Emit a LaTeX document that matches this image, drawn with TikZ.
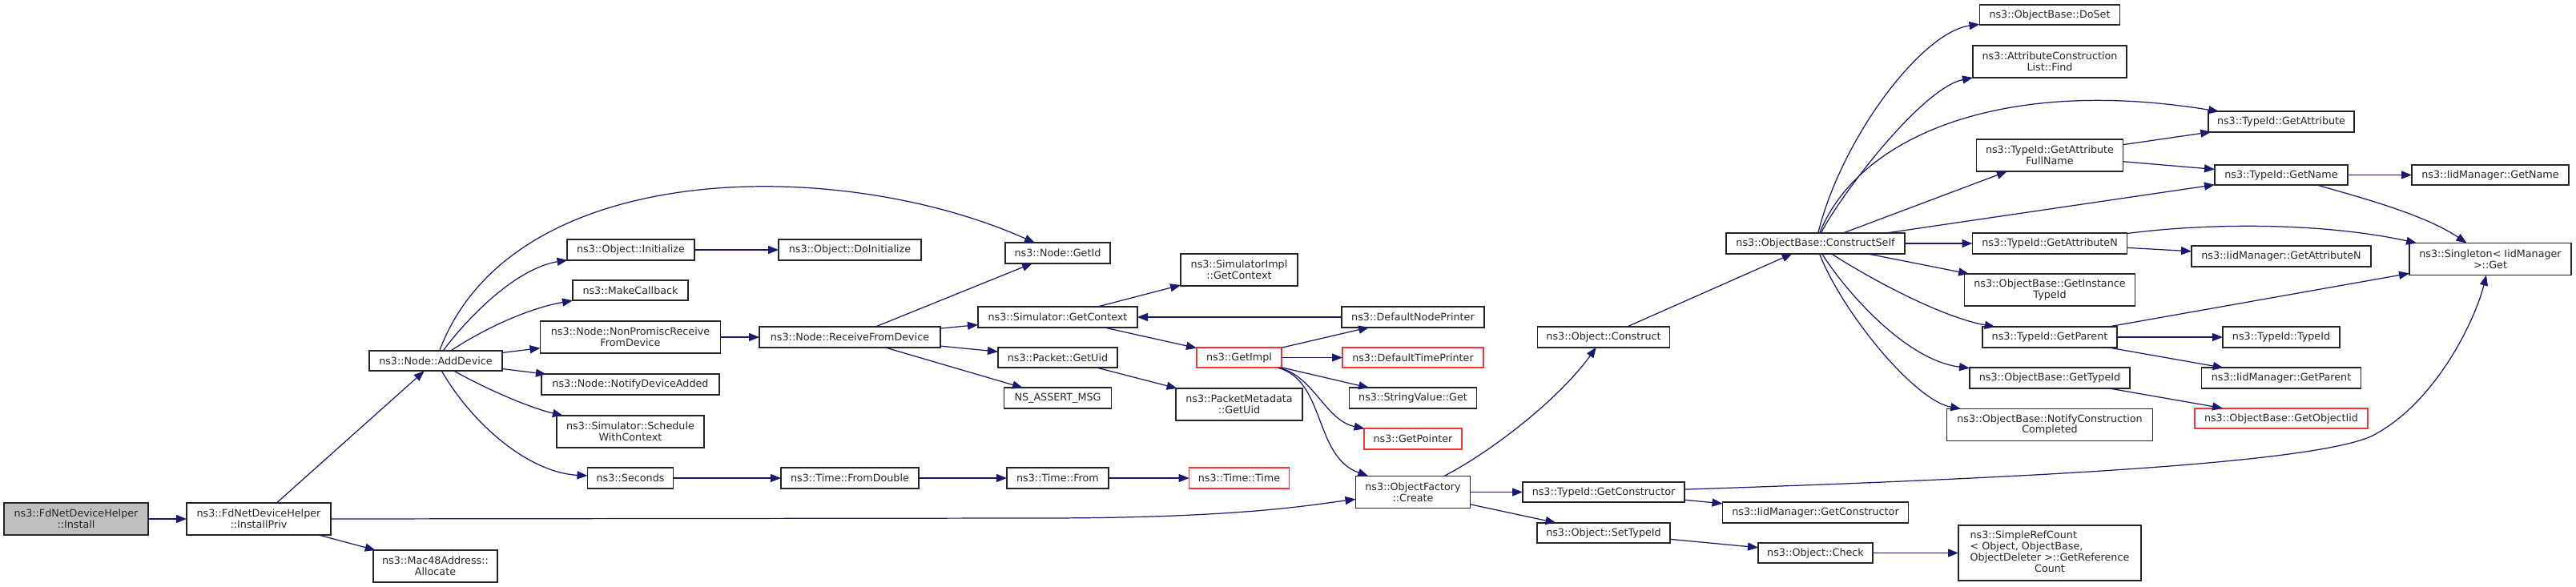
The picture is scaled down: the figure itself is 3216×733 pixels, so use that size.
\documentclass[tikz,border=0pt]{standalone}
\usepackage{fontspec}
\usetikzlibrary{arrows.meta}
\newfontfamily\dvs{DejaVu Sans}
\definecolor{edgeblue}{HTML}{191970}
\definecolor{boxline}{HTML}{262626}
\definecolor{boxred}{HTML}{FF3333}
\definecolor{rootfill}{HTML}{BFBFBF}
\tikzset{
  nbox/.style 2 args={draw=boxline, fill=white, line width=1.05pt, rectangle,
    inner sep=0pt, outer sep=0pt, minimum width=#1*0.02cm, minimum height=#2*0.02cm,
    align=center, font=\dvs\fontsize{7.25}{7.94}\selectfont, text=black!85},
  redbox/.style={draw=boxred},
  callarrow/.style={draw=edgeblue, line width=0.7pt, -{Triangle[length=7.4pt,width=5.7pt]}}
}
\begin{document}
\begin{tikzpicture}[x=0.02cm,y=-0.02cm]
\useasboundingbox[fill=white] (0,0) rectangle (3216,733);
% column 1-2
\node[nbox={180}{40}, fill=rootfill] (install) at (95,648) {ns3::FdNetDeviceHelper\\::Install};
\node[nbox={180}{40}] (installpriv) at (323,648) {ns3::FdNetDeviceHelper\\::InstallPriv};
\node[nbox={155}{40}] (mac48) at (543.5,707) {ns3::Mac48Address::\\Allocate};
\node[nbox={166}{25.5}] (adddevice) at (544,450.5) {ns3::Node::AddDevice};
% column 3
\node[nbox={159}{25.5}] (init) at (787.5,312) {ns3::Object::Initialize};
\node[nbox={144}{25.5}] (makecb) at (787,362.5) {ns3::MakeCallback};
\node[nbox={225}{40}] (nonpromisc) at (787,421) {ns3::Node::NonPromiscReceive\\FromDevice};
\node[nbox={222}{25.5}] (notifyadded) at (787,480) {ns3::Node::NotifyDeviceAdded};
\node[nbox={184}{40}] (schedule) at (787,539) {ns3::Simulator::Schedule\\WithContext};
\node[nbox={107}{25.5}] (seconds) at (787,597) {ns3::Seconds};
% column 4
\node[nbox={178}{25.5}] (doinit) at (1061,312) {ns3::Object::DoInitialize};
\node[nbox={226}{25.5}] (recv) at (1061,421) {ns3::Node::ReceiveFromDevice};
\node[nbox={172}{25.5}] (fromdouble) at (1061,597) {ns3::Time::FromDouble};
% column 5
\node[nbox={131}{25.5}] (getid) at (1320.5,316) {ns3::Node::GetId};
\node[nbox={199}{25.5}] (simctx) at (1320.5,396) {ns3::Simulator::GetContext};
\node[nbox={149}{25.5}] (pktuid) at (1320.5,446.5) {ns3::Packet::GetUid};
\node[nbox={134}{25.5}] (nsassert) at (1320.5,497) {NS\_ASSERT\_MSG};
\node[nbox={127}{25.5}] (timefrom) at (1320.5,597) {ns3::Time::From};
% column 6
\node[nbox={146}{40}] (simimplctx) at (1547,337) {ns3::SimulatorImpl\\::GetContext};
\node[nbox={106}{25.5}, redbox] (getimpl) at (1547,446.5) {ns3::GetImpl};
\node[nbox={158}{40}] (pmuid) at (1547,505) {ns3::PacketMetadata\\::GetUid};
\node[nbox={125}{25.5}, redbox] (timetime) at (1547,597) {ns3::Time::Time};
% column 7
\node[nbox={178}{25.5}] (defnode) at (1764,396) {ns3::DefaultNodePrinter};
\node[nbox={176}{25.5}, redbox] (deftime) at (1764,446.5) {ns3::DefaultTimePrinter};
\node[nbox={159}{25.5}] (strget) at (1764,497) {ns3::StringValue::Get};
\node[nbox={122}{25.5}, redbox] (getptr) at (1764,548) {ns3::GetPointer};
\node[nbox={143}{40}] (create) at (1764,614.5) {ns3::ObjectFactory\\::Create};
% column 8
\node[nbox={165}{25.5}] (construct) at (2002,421) {ns3::Object::Construct};
\node[nbox={202}{25.5}] (getctor) at (2002,614.5) {ns3::TypeId::GetConstructor};
\node[nbox={166}{25.5}] (settypeid) at (2002,665.5) {ns3::Object::SetTypeId};
% column 9
\node[nbox={223}{25.5}] (constructself) at (2266.5,304) {ns3::ObjectBase::ConstructSelf};
\node[nbox={232}{25.5}] (iidgetctor) at (2266.5,640) {ns3::IidManager::GetConstructor};
\node[nbox={143}{25.5}] (check) at (2266.5,690.5) {ns3::Object::Check};
% column 10
\node[nbox={175}{25.5}] (doset) at (2559,18.5) {ns3::ObjectBase::DoSet};
\node[nbox={192}{40}] (find) at (2559,77) {ns3::AttributeConstruction\\List::Find};
\node[nbox={183}{40}] (getattrfullname) at (2559,194) {ns3::TypeId::GetAttribute\\FullName};
\node[nbox={193}{25.5}] (getattrn) at (2559,304) {ns3::TypeId::GetAttributeN};
\node[nbox={213}{40}] (getinsttypeid) at (2559,362) {ns3::ObjectBase::GetInstance\\TypeId};
\node[nbox={168}{25.5}] (getparent) at (2559,421) {ns3::TypeId::GetParent};
\node[nbox={200}{25.5}] (obgettypeid) at (2559,472) {ns3::ObjectBase::GetTypeId};
\node[nbox={257}{40}] (notifyconstr) at (2559,530.5) {ns3::ObjectBase::NotifyConstruction\\Completed};
\node[nbox={228}{69}] (simplerefcount) at (2559,690.5) {\begin{tabular}{@{}l@{}}ns3::SimpleRefCount\\< Object, ObjectBase,\\ObjectDeleter >::GetReference\\\multicolumn{1}{@{}c@{}}{Count}\end{tabular}};
% column 11
\node[nbox={182}{25.5}] (getattribute) at (2848,152) {ns3::TypeId::GetAttribute};
\node[nbox={166}{25.5}] (typeidgetname) at (2848,218.5) {ns3::TypeId::GetName};
\node[nbox={224}{25.5}] (iidgetattrn) at (2848,320) {ns3::IidManager::GetAttributeN};
\node[nbox={146}{25.5}] (typeidtypeid) at (2848,421) {ns3::TypeId::TypeId};
\node[nbox={199}{25.5}] (iidgetparent) at (2848,472) {ns3::IidManager::GetParent};
\node[nbox={216}{25.5}, redbox] (getobjectiid) at (2848,522.5) {ns3::ObjectBase::GetObjectIid};
% column 12
\node[nbox={196}{25.5}] (iidgetname) at (3109,218.5) {ns3::IidManager::GetName};
\node[nbox={202}{40}] (singleton) at (3109,323.5) {ns3::Singleton< IidManager\\ >::Get};
% edges
\draw[callarrow] (install) -- (installpriv);
\draw[callarrow] (installpriv) -- (adddevice);
\draw[callarrow] (installpriv.east) -- (1300,647) .. controls (1550,647) and (1640,630) .. (create);
\draw[callarrow] (installpriv) -- (mac48);
\draw[callarrow] (adddevice) .. controls (640,195) and (1050,195) .. (getid);
\draw[callarrow] (adddevice) .. controls (585,395) and (645,335) .. (init);
\draw[callarrow] (adddevice) .. controls (605,410) and (660,385) .. (makecb);
\draw[callarrow] (adddevice) -- (nonpromisc);
\draw[callarrow] (adddevice) -- (notifyadded);
\draw[callarrow] (adddevice) .. controls (615,490) and (665,510) .. (schedule);
\draw[callarrow] (adddevice) .. controls (590,530) and (660,590) .. (seconds);
\draw[callarrow] (init) -- (doinit);
\draw[callarrow] (nonpromisc) -- (recv);
\draw[callarrow] (recv) -- (getid);
\draw[callarrow] (recv) -- (simctx);
\draw[callarrow] (recv) -- (pktuid);
\draw[callarrow] (recv) -- (nsassert);
\draw[callarrow] (seconds) -- (fromdouble);
\draw[callarrow] (fromdouble) -- (timefrom);
\draw[callarrow] (timefrom) -- (timetime);
\draw[callarrow] (simctx) -- (simimplctx);
\draw[callarrow] (simctx) -- (getimpl);
\draw[callarrow] (defnode) -- (simctx);
\draw[callarrow] (pktuid) -- (pmuid);
\draw[callarrow] (getimpl) -- (defnode);
\draw[callarrow] (getimpl) -- (deftime);
\draw[callarrow] (getimpl) -- (strget);
\draw[callarrow] (getimpl) .. controls (1640,470) and (1655,525) .. (getptr);
\draw[callarrow] (getimpl) .. controls (1655,475) and (1640,570) .. (create);
\draw[callarrow] (create) .. controls (1860,565) and (1945,500) .. (construct);
\draw[callarrow] (create) -- (getctor);
\draw[callarrow] (create) -- (settypeid);
\draw[callarrow] (construct) -- (constructself);
\draw[callarrow] (getctor) -- (iidgetctor);
\draw[callarrow] (getctor) .. controls (2500,598) and (2880,580) .. (2960,545) .. controls (3040,505) and (3090,400) .. (singleton);
\draw[callarrow] (settypeid) -- (check);
\draw[callarrow] (check) -- (simplerefcount);
\draw[callarrow] (constructself) .. controls (2300,170) and (2400,40) .. (doset);
\draw[callarrow] (constructself) .. controls (2300,240) and (2400,110) .. (find);
\draw[callarrow] (constructself) .. controls (2320,170) and (2500,95) .. (getattribute);
\draw[callarrow] (constructself) -- (getattrfullname);
\draw[callarrow] (constructself) -- (typeidgetname);
\draw[callarrow] (constructself) -- (getattrn);
\draw[callarrow] (constructself) -- (getinsttypeid);
\draw[callarrow] (constructself) .. controls (2330,345) and (2420,395) .. (getparent);
\draw[callarrow] (constructself) .. controls (2305,365) and (2380,450) .. (obgettypeid);
\draw[callarrow] (constructself) .. controls (2300,390) and (2390,500) .. (notifyconstr);
\draw[callarrow] (getattrfullname) -- (getattribute);
\draw[callarrow] (getattrfullname) -- (typeidgetname);
\draw[callarrow] (typeidgetname) -- (iidgetname);
\draw[callarrow] (typeidgetname) .. controls (2960,250) and (3030,270) .. (singleton);
\draw[callarrow] (getattrn) .. controls (2760,278) and (2900,278) .. (singleton);
\draw[callarrow] (getattrn) -- (iidgetattrn);
\draw[callarrow] (getparent) -- (singleton);
\draw[callarrow] (getparent) -- (typeidtypeid);
\draw[callarrow] (getparent) -- (iidgetparent);
\draw[callarrow] (obgettypeid) -- (getobjectiid);
\end{tikzpicture}
\end{document}
